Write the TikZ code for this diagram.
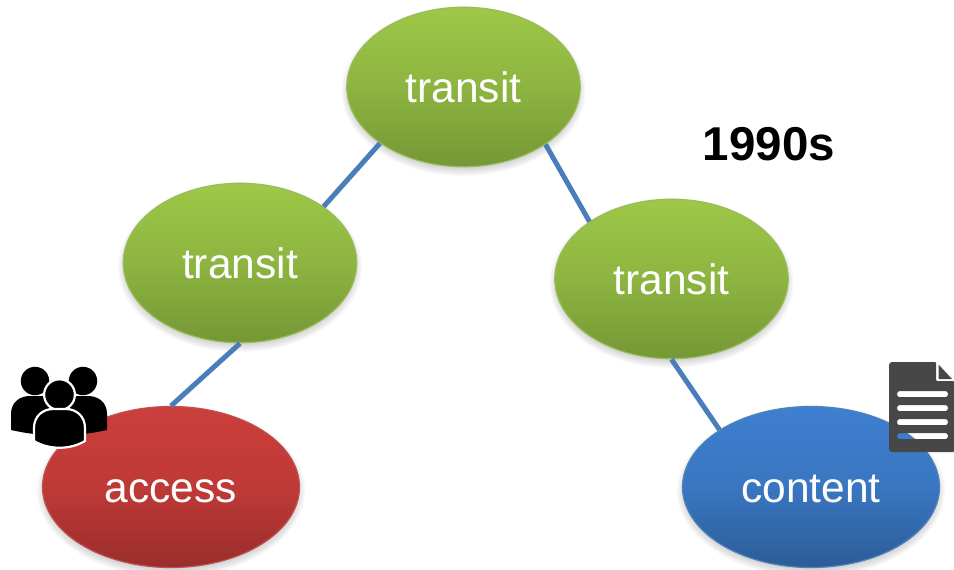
\documentclass[tikz,border=0pt]{standalone}
\usepackage{fontspec}
\setmainfont{Liberation Sans}
\definecolor{gtop}{HTML}{9DC847}
\definecolor{gbot}{HTML}{759736}
\definecolor{gedge}{HTML}{9BBB59}
\definecolor{rtop}{HTML}{CB3E3B}
\definecolor{rbot}{HTML}{992D2B}
\definecolor{redge}{HTML}{C0504D}
\definecolor{btop}{HTML}{3E7FCF}
\definecolor{bbot}{HTML}{2C5C97}
\definecolor{bedge}{HTML}{4F81BD}
\definecolor{linkc}{HTML}{4A7EBB}
\definecolor{docc}{HTML}{474747}
\newcommand{\softshade}[4]{%
  \foreach \k in {0,1,...,7}{%
    \fill[black,opacity=0.028] (#1,#2+4) ellipse [x radius=#3+5-\k*1.4, y radius=#4+5-\k*1.4];
  }}
\tikzset{
  x=1pt,y=-1pt,
  netnode/.style={ellipse,minimum width=#1,inner sep=0pt,text=white,font=\fontsize{42.5}{42.5}\selectfont,line width=1.2pt,text height=31pt,text depth=0pt},
  transitnode/.style={netnode=233.5pt,minimum height=159.5pt,draw=gedge,top color=gtop,bottom color=gbot,middle color=gtop!60!gbot,shading angle=0},
  accessnode/.style={netnode=257pt,minimum height=161pt,draw=redge,top color=rtop,bottom color=rbot,middle color=rtop!75!rbot},
  contentnode/.style={netnode=257pt,minimum height=161pt,draw=bedge,top color=btop,bottom color=bbot,middle color=btop!75!bbot},
  linkline/.style={draw=linkc,line width=5pt},
  iconwhite/.style={draw=white,line width=2.2pt,fill=black},
}
\usetikzlibrary{shapes.geometric}
\begin{document}
\begin{tikzpicture}
\useasboundingbox (0,0) rectangle (954,570);
\softshade{463.5}{87}{117}{80}
\softshade{240}{263}{117}{80}
\softshade{671.5}{279}{117}{80}
\softshade{171}{487}{129}{81}
\softshade{811}{487}{129}{81}
\node[transitnode] (top) at (463.5,87) {transit};
\node[transitnode] (left) at (240,263) {transit};
\node[transitnode] (right) at (671.5,279) {transit};
\node[accessnode] (access) at (171,487) {access};
\node[contentnode] (content) at (811,487) {content};
\node[font=\fontsize{47.5}{47.5}\selectfont\bfseries,inner sep=0pt] (era) at (769,144) {1990s};
\draw[linkline] (top.214.6) -- (left.34.7);
\draw[linkline] (top.-35) -- (right.145);
\draw[linkline] (left.south) -- (access.north);
\draw[linkline] (right.south) -- (content.148);
% people icon
\fill[black] (35,381) circle (14.2);
\fill[black] (83,381) circle (14.2);
\fill[black] (11,430) -- (11,414) .. controls (11,402) and (20,396) .. (30,396) -- (42,396) .. controls (56,396) and (60,410) .. (60,425) -- (60,434) .. controls (40,436) and (25,433) .. (11,430) -- cycle;
\fill[black] (107,430) -- (107,414) .. controls (107,402) and (98,396) .. (88,396) -- (76,396) .. controls (62,396) and (58,410) .. (58,425) -- (58,434) .. controls (78,436) and (93,433) .. (107,430) -- cycle;
\draw[iconwhite] (59.5,394.7) circle (15.4);
\draw[iconwhite] (34,441) -- (34,428) .. controls (34,416) and (43,409) .. (53,409) -- (66,409) .. controls (76,409) and (85,416) .. (85,428) -- (85,441) .. controls (70,450) and (49,450) .. (34,441) -- cycle;
% document icon, its four lines are openings
\fill[docc,even odd rule,rounded corners=1pt]
  (889,364) -- (889,450) -- (891,452) -- (954,452) -- (954,381) -- (936,381) -- (936,362) -- (891,362) -- cycle
  {[rounded corners=2.8pt]
  (897,391) rectangle (948,397.2)
  (897,405) rectangle (948,411.2)
  (897,419) rectangle (948,425.2)
  (897,433) rectangle (948,439.2)};
\fill[docc] (938.5,364.5) -- (952,379) -- (938.5,379) -- cycle;
\end{tikzpicture}
\end{document}
